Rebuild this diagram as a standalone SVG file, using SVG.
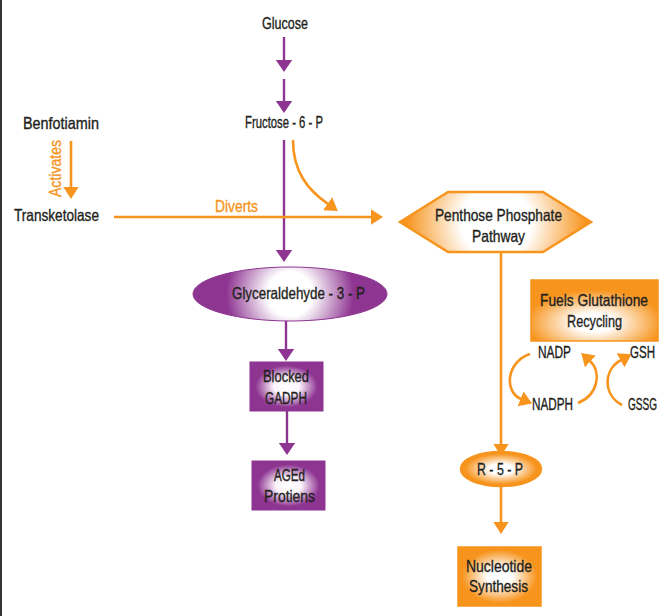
<svg xmlns="http://www.w3.org/2000/svg" width="662" height="616" viewBox="0 0 662 616">
<defs>
<style>
text{font-family:"Liberation Sans Narrow","Liberation Sans",Arial,sans-serif;font-size:16.5px;fill:#231f20;stroke:#231f20;stroke-width:0.35px;}
.or{fill:#f7941d;stroke:#f7941d;}
.pl{stroke:#8e3592;stroke-width:2.4;fill:none;}
.ol{stroke:#f7941d;stroke-width:2.6;fill:none;}
</style>
<marker id="ap" markerUnits="userSpaceOnUse" markerWidth="14" markerHeight="20" viewBox="0 -10 14 20" refX="0.5" refY="0" orient="auto"><path d="M0,-8.5 L12.5,0 L0,8.5 z" fill="#8e3592"/></marker>
<marker id="ao" markerUnits="userSpaceOnUse" markerWidth="14" markerHeight="20" viewBox="0 -10 14 20" refX="0.5" refY="0" orient="auto"><path d="M0,-8 L12.5,0 L0,8 z" fill="#f7941d"/></marker>
<radialGradient id="gpE" gradientUnits="userSpaceOnUse" cx="290" cy="294" r="75"><stop offset="0" stop-color="#fff"/><stop offset="0.3" stop-color="#fff"/><stop offset="0.85" stop-color="#8e3592"/></radialGradient>
<radialGradient id="gpR"><stop offset="0" stop-color="#fff"/><stop offset="0.35" stop-color="#fbf4fb"/><stop offset="0.85" stop-color="#8e3592"/></radialGradient>
<radialGradient id="goH" gradientUnits="userSpaceOnUse" cx="496" cy="222" r="100"><stop offset="0" stop-color="#fff"/><stop offset="0.35" stop-color="#fff"/><stop offset="0.9" stop-color="#f7941d"/></radialGradient>
<radialGradient id="goR"><stop offset="0" stop-color="#fff"/><stop offset="0.3" stop-color="#fff"/><stop offset="0.9" stop-color="#f7941d"/></radialGradient>
<radialGradient id="goF" cx="0.5" cy="0.7" r="0.6"><stop offset="0" stop-color="#fff"/><stop offset="0.25" stop-color="#fff"/><stop offset="0.9" stop-color="#f7941d"/></radialGradient>
</defs>
<rect x="0" y="0" width="662" height="616" fill="#fff"/>
<line x1="1" y1="0" x2="1" y2="616" stroke="#333" stroke-width="2"/>

<g id="connectors">
<line class="pl" x1="284" y1="37" x2="284" y2="60" marker-end="url(#ap)"/>
<line class="pl" x1="284" y1="79" x2="284" y2="101" marker-end="url(#ap)"/>
<line class="pl" x1="284" y1="140" x2="284" y2="250" marker-end="url(#ap)"/>
<line class="pl" x1="286" y1="320" x2="286" y2="349" marker-end="url(#ap)"/>
<line class="pl" x1="287" y1="411" x2="287" y2="443" marker-end="url(#ap)"/>
<line class="ol" x1="71" y1="141" x2="71" y2="187" marker-end="url(#ao)"/>
<line class="ol" x1="114" y1="217" x2="371" y2="217" marker-end="url(#ao)"/>
<path class="ol" d="M293,140 C293,172 308,190 328,204" marker-end="url(#ao)"/>
<line class="ol" x1="501" y1="252" x2="501" y2="444" marker-end="url(#ao)"/>
<line class="ol" x1="501" y1="486" x2="501" y2="522" marker-end="url(#ao)"/>
<path class="ol" d="M530,354 C506,362 504,392 521,399" marker-end="url(#ao)"/>
<path class="ol" d="M578,403 C598,395 602,372 590,361" marker-end="url(#ao)"/>
<path class="ol" d="M622,405 C603,395 603,370 621,360" marker-end="url(#ao)"/>
<text class="or" x="215" y="212" textLength="43" lengthAdjust="spacingAndGlyphs">Diverts</text>
<text class="or" transform="translate(61,197) rotate(-90)" x="0" y="0" textLength="57" lengthAdjust="spacingAndGlyphs">Activates</text>
</g>

<g id="glucose"><text x="262" y="29" textLength="46" lengthAdjust="spacingAndGlyphs">Glucose</text></g>
<g id="fructose"><text x="245" y="128" textLength="78" lengthAdjust="spacingAndGlyphs">Fructose - 6 - P</text></g>
<g id="benfotiamin"><text x="23" y="129" textLength="76" lengthAdjust="spacingAndGlyphs">Benfotiamin</text></g>
<g id="transketolase"><text x="14" y="221" textLength="85" lengthAdjust="spacingAndGlyphs">Transketolase</text></g>

<g id="ppp">
<polygon points="400,222 448,192 543,192 591,222 543,252 448,252" fill="url(#goH)" stroke="#f7941d" stroke-width="2.5"/>
<text x="435" y="221" textLength="127" lengthAdjust="spacingAndGlyphs">Penthose Phosphate</text>
<text x="472" y="242" textLength="53" lengthAdjust="spacingAndGlyphs">Pathway</text>
</g>

<g id="glyceraldehyde">
<ellipse cx="290" cy="294" rx="97" ry="27" fill="url(#gpE)" stroke="#8e3592" stroke-width="1"/>
<text x="232" y="299" textLength="133" lengthAdjust="spacingAndGlyphs">Glyceraldehyde - 3 - P</text>
</g>

<g id="blocked">
<rect x="250" y="362" width="73" height="49" fill="url(#gpR)" stroke="#8e3592" stroke-width="1"/>
<text x="263" y="382" textLength="46" lengthAdjust="spacingAndGlyphs">Blocked</text>
<text x="265" y="404" textLength="42" lengthAdjust="spacingAndGlyphs">GADPH</text>
</g>

<g id="aged">
<rect x="252" y="461" width="73" height="49" fill="url(#gpR)" stroke="#8e3592" stroke-width="1"/>
<text x="274" y="481" textLength="31" lengthAdjust="spacingAndGlyphs">AGEd</text>
<text x="264" y="502" textLength="51" lengthAdjust="spacingAndGlyphs">Protiens</text>
</g>

<g id="glutathione">
<rect x="531" y="280" width="127" height="61" fill="url(#goF)" stroke="#f7941d" stroke-width="1.5"/>
<text x="540" y="306" textLength="108" lengthAdjust="spacingAndGlyphs">Fuels Glutathione</text>
<text x="567" y="327" textLength="55" lengthAdjust="spacingAndGlyphs">Recycling</text>
</g>

<g id="nadp"><text x="538" y="358" textLength="33" lengthAdjust="spacingAndGlyphs">NADP</text></g>
<g id="gsh"><text x="630" y="358" textLength="25" lengthAdjust="spacingAndGlyphs">GSH</text></g>
<g id="nadph"><text x="532" y="410" textLength="41" lengthAdjust="spacingAndGlyphs">NADPH</text></g>
<g id="gssg"><text x="628" y="410" textLength="29" lengthAdjust="spacingAndGlyphs">GSSG</text></g>

<g id="r5p">
<ellipse cx="501" cy="469" rx="40" ry="17" fill="url(#goR)" stroke="#f7941d" stroke-width="2.5"/>
<text x="477" y="475" textLength="46" lengthAdjust="spacingAndGlyphs">R - 5 - P</text>
</g>

<g id="nucleotide">
<rect x="458" y="547" width="83" height="59" fill="url(#goR)" stroke="#f7941d" stroke-width="1.5"/>
<text x="466" y="572" textLength="66" lengthAdjust="spacingAndGlyphs">Nucleotide</text>
<text x="469" y="592" textLength="59" lengthAdjust="spacingAndGlyphs">Synthesis</text>
</g>
</svg>
